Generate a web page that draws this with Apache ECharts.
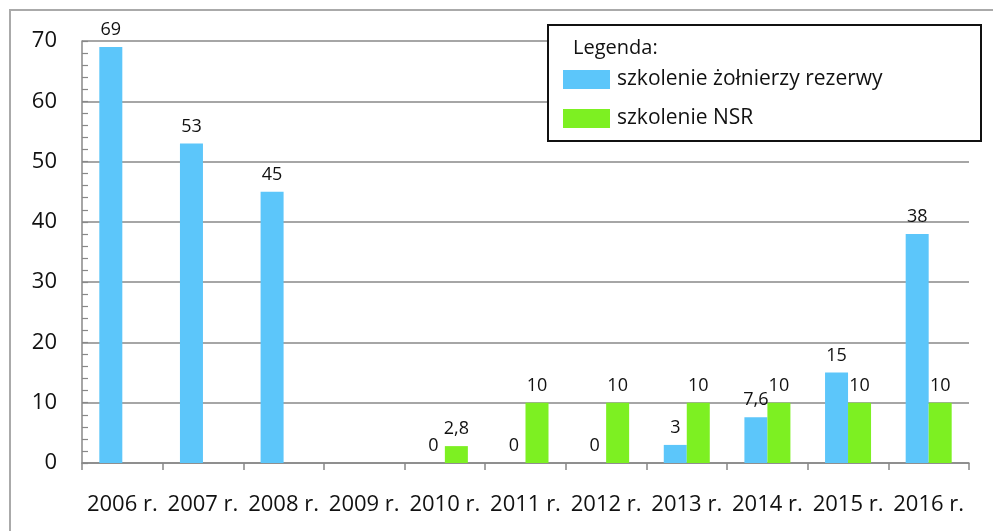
<!DOCTYPE html>
<html>
<head>
<meta charset="utf-8">
<script src="https://cdn.jsdelivr.net/npm/echarts@6/dist/echarts.min.js"></script>
<style>
html,body{margin:0;padding:0;background:#fff;}
#chart{width:993px;height:531px;}
</style>
</head>
<body>
<div id="chart"></div>
<script>
const categories = ['2006 r.','2007 r.','2008 r.','2009 r.','2010 r.','2011 r.','2012 r.','2013 r.','2014 r.','2015 r.','2016 r.'];
const reserveTraining = [69, 53, 45, '-', 0, 0, 0, 3, 7.6, 15, 38];
const nsrTraining = ['-', '-', '-', '-', 2.8, 10, 10, 10, 10, 10, 10];
const seriesNames = ['szkolenie żołnierzy rezerwy', 'szkolenie NSR'];
const legendTitle = 'Legenda:';

const FONT = '"Open Sans", "DejaVu Sans", sans-serif';
const chart = echarts.init(document.getElementById('chart'));
const labelCfg = {
  show: true, position: 'top', distance: 8,
  fontFamily: FONT, fontSize: 18, color: '#111',
  formatter: p => String(p.value).replace('.', ',')
};
chart.setOption({
  animation: false,
  textStyle: { fontFamily: FONT },
  grid: { left: 82, right: 24, top: 41, bottom: 68 },
  xAxis: {
    type: 'category',
    data: categories,
    axisLine: { lineStyle: { color: '#888', width: 1.5 } },
    axisTick: { show: true, length: 7, lineStyle: { color: '#888', width: 1.5 } },
    axisLabel: { fontFamily: FONT, fontSize: 22, color: '#111', margin: 31, interval: 0 }
  },
  yAxis: [{
    type: 'value', min: 0, max: 70, interval: 10,
    axisLine: { show: true, lineStyle: { color: '#888', width: 1.5 } },
    axisTick: { show: false },
    axisLabel: { fontFamily: FONT, fontSize: 22, color: '#111', margin: 25 },
    splitLine: { show: true, lineStyle: { color: '#888', width: 1.5 } }
  }, {
    type: 'value', min: 0, max: 70, interval: 2,
    position: 'left', offset: 0,
    axisLine: { show: false },
    axisTick: { show: true, inside: true, length: 6, lineStyle: { color: '#888', width: 1.2 } },
    axisLabel: { show: false },
    splitLine: { show: false }
  }],
  legend: {
    orient: 'vertical',
    left: 558, top: 64, z: 20,
    itemWidth: 47, itemHeight: 19, itemGap: 18,
    icon: 'rect',
    textStyle: { fontFamily: FONT, fontSize: 21, color: '#111', padding: [0,0,0,2] },
    data: seriesNames
  },
  series: [
    { name: seriesNames[0], type: 'bar', data: reserveTraining, barWidth: 23, barGap: '0%',
      itemStyle: { color: '#5CC6FA' }, label: labelCfg },
    { name: seriesNames[1], type: 'bar', data: nsrTraining, barWidth: 23,
      itemStyle: { color: '#7DF022' }, label: labelCfg }
  ],
  graphic: [
    { type: 'rect', shape: { x: 10, y: 10, width: 1000, height: 540 }, z: -10,
      style: { fill: 'none', stroke: '#aaa', lineWidth: 2 } },
    { type: 'rect', shape: { x: 548, y: 25, width: 433, height: 116 }, z: 5,
      style: { fill: '#fff', stroke: '#111', lineWidth: 2 } },
    { type: 'text', left: 573, top: 38, z: 6,
      style: { text: legendTitle, font: '20px ' + FONT, fill: '#111' } }
  ]
});
</script>
</body>
</html>
